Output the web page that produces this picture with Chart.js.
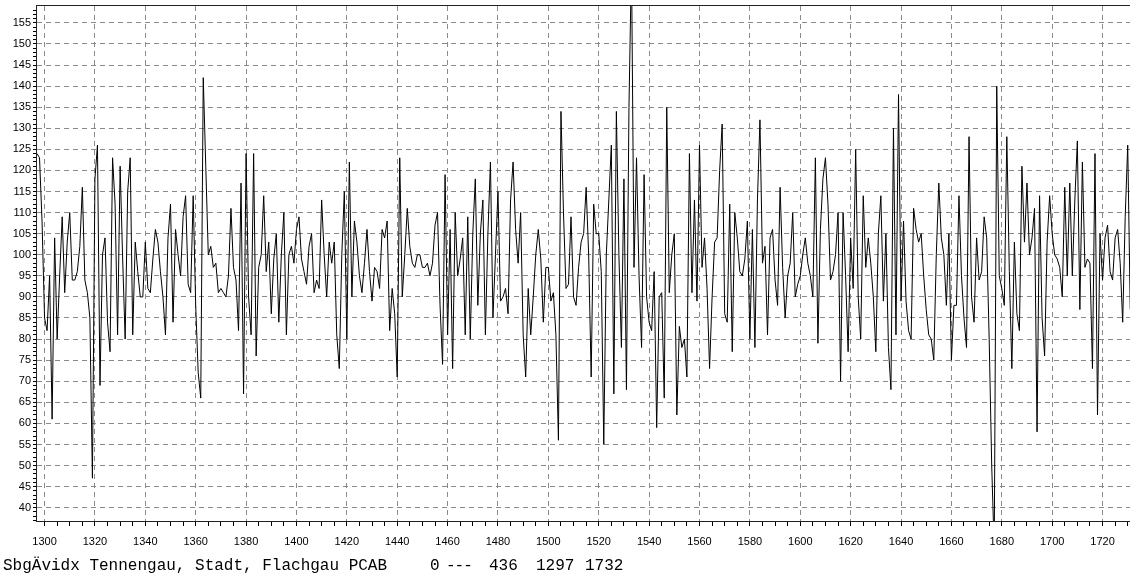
<!DOCTYPE html>
<html lang="de">
<head>
<meta charset="UTF-8">
<title>SbgÄvidx Tennengau, Stadt, Flachgau PCAB</title>
<style>
    html, body { margin: 0; padding: 0; background: #fff; }
    .wrap { position: relative; width: 1130px; height: 579px; overflow: hidden; }
    #chart { display: block; }
    .caption {
        position: absolute;
        top: 558px;
        font-family: "Liberation Mono", monospace;
        font-size: 16px;
        line-height: 16px;
        color: #000;
        white-space: pre;
    }
</style>
</head>
<body>
<div class="wrap">
    <canvas id="chart" width="1130" height="579"></canvas>
    <div class="caption" style="left:3px">SbgÄvidx Tennengau, Stadt, Flachgau PCAB</div>
    <div class="caption" style="left:430px">0</div>
    <div class="caption" style="left:446px; letter-spacing:-1px">---</div>
    <div class="caption" style="left:489px">436</div>
    <div class="caption" style="left:536px">1297</div>
    <div class="caption" style="left:585px">1732</div>
</div>

<script src="https://cdn.jsdelivr.net/npm/chart.js"></script>
<script>
    // index values, one per year, 1297 .. 1732 (436 years)
    const firstYear = 1297;
    const lastYear = 1732;
    const values = [
        124, 123, 108, 85, 82, 95, 61, 104, 80, 95,      // 1297
        109, 91, 103, 110, 94, 94, 96, 102, 116, 94,     // 1307
        91, 85, 47, 118, 126, 69, 100, 104, 84, 77,      // 1317
        123, 112, 81, 121, 99, 80, 115, 123, 81, 103,    // 1327
        96, 90, 90, 103, 92, 91, 99, 106, 103, 96,       // 1337
        90, 81, 104, 112, 84, 106, 100, 95, 109, 114,    // 1347
        93, 91, 114, 88, 72, 66, 142, 121, 100, 102,     // 1357
        97, 98, 91, 92, 91, 90, 95, 111, 97, 94,         // 1367
        82, 117, 67, 124, 90, 81, 124, 76, 97, 100,      // 1377
        114, 96, 103, 86, 99, 105, 84, 100, 110, 81,     // 1387
        100, 102, 98, 106, 109, 99, 96, 93, 102, 105,    // 1397
        91, 94, 92, 113, 100, 90, 103, 98, 103, 81,      // 1407
        73, 100, 115, 80, 122, 90, 108, 103, 95, 91,     // 1417
        98, 106, 96, 89, 97, 96, 92, 106, 104, 108,      // 1427
        82, 92, 86, 71, 123, 90, 100, 111, 102, 98,      // 1437
        97, 100, 100, 97, 97, 98, 95, 98, 107, 110,      // 1447
        88, 74, 119, 81, 106, 73, 110, 95, 99, 104,      // 1457
        81, 109, 80, 105, 118, 88, 105, 113, 81, 105,    // 1467
        122, 85, 100, 115, 89, 90, 92, 86, 113, 122,     // 1477
        106, 98, 110, 81, 71, 92, 81, 90, 100, 106,      // 1487
        99, 84, 97, 97, 89, 91, 81, 56, 134, 110,        // 1497
        92, 93, 109, 90, 88, 97, 103, 105, 116, 100,     // 1507
        71, 112, 105, 105, 96, 55, 100, 113, 126, 67,    // 1517
        134, 100, 78, 118, 68, 135, 170, 97, 123, 95,    // 1527
        78, 119, 90, 84, 82, 96, 59, 90, 91, 66,         // 1537
        135, 91, 100, 105, 62, 83, 78, 80, 71, 124,      // 1547
        91, 113, 89, 126, 97, 104, 92, 73, 90, 103,      // 1557
        104, 120, 131, 86, 84, 112, 77, 110, 104, 96,    // 1567
        95, 99, 108, 80, 106, 78, 113, 132, 98, 102,     // 1577
        81, 104, 106, 94, 88, 116, 97, 85, 95, 98,       // 1587
        110, 90, 93, 95, 100, 104, 98, 95, 90, 123,      // 1597
        79, 106, 118, 123, 112, 94, 96, 100, 110, 70,    // 1607
        110, 95, 77, 104, 92, 125, 90, 80, 114, 97,      // 1617
        104, 98, 90, 77, 105, 114, 89, 105, 78, 68,      // 1627
        130, 81, 138, 89, 108, 89, 82, 80, 111, 106,     // 1637
        103, 105, 95, 87, 81, 80, 75, 100, 117, 104,     // 1647
        100, 88, 105, 75, 88, 88, 114, 95, 85, 78,       // 1657
        128, 90, 84, 104, 94, 96, 109, 104, 80, 50,      // 1667
        30, 140, 95, 92, 88, 128, 96, 73, 103, 86,       // 1677
        82, 121, 103, 117, 100, 104, 111, 58, 114, 85,   // 1687
        76, 103, 114, 105, 100, 99, 97, 90, 116, 95,     // 1697
        117, 95, 113, 127, 87, 122, 97, 99, 98, 73,      // 1707
        124, 62, 105, 94, 104, 107, 96, 94, 104, 106,    // 1717
        98, 84, 109, 126, 87, 95                         // 1727
    ];

    const years = [];
    for (let y = firstYear; y <= lastYear; y++) years.push(y);

    // axis labels
    const xLabels = [1300, 1320, 1340, 1360, 1380, 1400, 1420, 1440, 1460, 1480, 1500,
                     1520, 1540, 1560, 1580, 1600, 1620, 1640, 1660, 1680, 1700, 1720];
    const yLabels = [40, 45, 50, 55, 60, 65, 70, 75, 80, 85, 90, 95, 100,
                     105, 110, 115, 120, 125, 130, 135, 140, 145, 150, 155];

    // small tick marks between the labelled ones
    const xTickMarks = [];
    for (let v = 1300; v <= 1730; v += 5) xTickMarks.push(v);
    const yTickMarks = [];
    for (let v = 37; v <= 158; v += 1) yTickMarks.push(v);

    const points = years.map((yr, i) => ({ x: yr, y: values[i] }));

    const gridColor = '#8a8a8a';
    const tickFont = { family: '"Liberation Sans", Arial, sans-serif', size: 11 };

    // frame round the plot area
    const framePlugin = {
        id: 'frame',
        afterDraw(chart) {
            const a = chart.chartArea;
            const c = chart.ctx;
            c.save();
            c.strokeStyle = '#222';
            c.lineWidth = 1;
            c.strokeRect(a.left - 0.5, a.top - 0.5, a.right - a.left + 1, a.bottom - a.top + 1);
            c.restore();
        }
    };

    new Chart(document.getElementById('chart').getContext('2d'), {
        type: 'line',
        data: {
            datasets: [{
                data: points,
                borderColor: '#000',
                borderWidth: 1,
                pointRadius: 0,
                tension: 0,
                fill: false
            }]
        },
        options: {
            responsive: false,
            animation: false,
            layout: { padding: { top: 6, left: 0, right: 0, bottom: 0 } },
            plugins: { legend: { display: false }, tooltip: { enabled: false } },
            scales: {
                x: {
                    type: 'linear',
                    min: 1297,
                    max: 1730.9,
                    afterBuildTicks: s => { s.ticks = xTickMarks.map(v => ({ value: v })); },
                    afterFit: s => {
                        s.height = 58;
                        s.paddingLeft = 0;
                        s.paddingRight = 0;
                    },
                    ticks: {
                        autoSkip: false,
                        maxRotation: 0,
                        padding: 9,
                        color: '#000',
                        font: tickFont,
                        callback: v => xLabels.includes(v) ? String(v) : ''
                    },
                    grid: {
                        color: ctx => (ctx.tick && xLabels.includes(ctx.tick.value)) ? gridColor : 'rgba(0,0,0,0)',
                        tickColor: '#000',
                        tickLength: 5,
                        lineWidth: 1
                    },
                    border: { display: false, dash: [5, 4] }
                },
                y: {
                    min: 36.85,
                    max: 159,
                    afterBuildTicks: s => { s.ticks = yTickMarks.map(v => ({ value: v })); },
                    afterFit: s => {
                        s.width = 37;
                        s.paddingTop = 0;
                        s.paddingBottom = 0;
                    },
                    ticks: {
                        autoSkip: false,
                        padding: 2,
                        color: '#000',
                        font: tickFont,
                        callback: v => yLabels.includes(v) ? String(v) : ''
                    },
                    grid: {
                        color: ctx => (ctx.tick && yLabels.includes(ctx.tick.value)) ? gridColor : 'rgba(0,0,0,0)',
                        tickColor: '#000',
                        tickLength: 4,
                        lineWidth: 1
                    },
                    border: { display: false, dash: [5, 4] }
                }
            }
        },
        plugins: [framePlugin]
    });
</script>
</body>
</html>
